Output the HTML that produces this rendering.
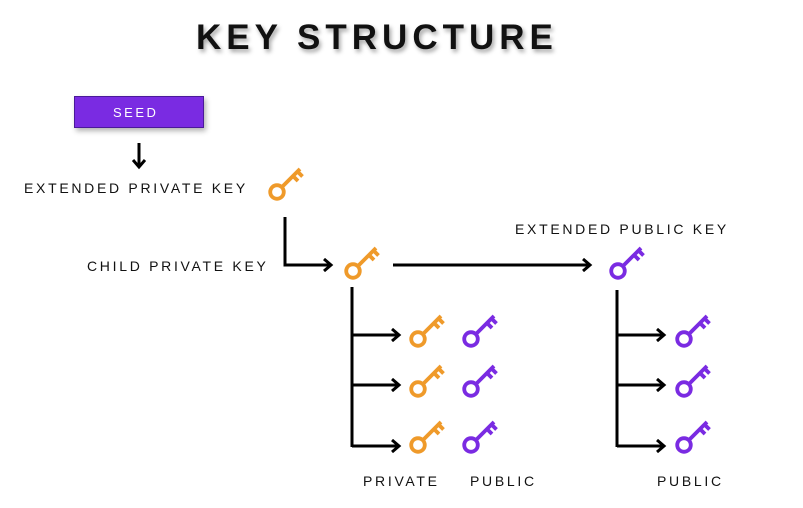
<!DOCTYPE html>
<html><head><meta charset="utf-8"><style>
html,body{margin:0;padding:0;background:#fff;}
body{width:803px;height:508px;position:relative;overflow:hidden;font-family:"Liberation Sans",sans-serif;}
.t{position:absolute;font-size:14px;letter-spacing:2.7px;color:#111;white-space:nowrap;line-height:1;}
</style></head><body>
<div class="t" style="left:196px;top:20px;font-size:35px;font-weight:bold;letter-spacing:5px;text-shadow:2px 3px 4px rgba(0,0,0,0.35);">KEY STRUCTURE</div>
<div style="position:absolute;left:74px;top:96px;width:128px;height:30px;background:#7a2be2;border:1.5px solid #4a1a99;box-shadow:2px 3px 5px rgba(0,0,0,0.3);"></div>
<div class="t" style="left:113px;top:106px;color:#fff;font-size:13px;letter-spacing:2.5px;">SEED</div>
<div class="t" style="left:24px;top:181px;">EXTENDED PRIVATE KEY</div>
<div class="t" style="left:87px;top:259px;">CHILD PRIVATE KEY</div>
<div class="t" style="left:515px;top:222px;">EXTENDED PUBLIC KEY</div>
<div class="t" style="left:363px;top:474px;">PRIVATE</div>
<div class="t" style="left:470px;top:474px;">PUBLIC</div>
<div class="t" style="left:657px;top:474px;">PUBLIC</div>
<svg width="803" height="508" style="position:absolute;left:0;top:0">
<defs>
<marker id="a" markerWidth="14" markerHeight="14" refX="9" refY="7" orient="auto" markerUnits="userSpaceOnUse">
<path d="M2,1 L9,7 L2,13" fill="none" stroke="#000" stroke-width="3"/></marker>
<g id="k" fill="none" stroke-width="3.8" stroke-linecap="butt">
<circle cx="0" cy="0" r="6.8"/>
<path d="M5,-5 L23,-23 M16,-16 L21,-11 M20.5,-20.5 L25.5,-15.5"/>
</g>
</defs>
<g stroke="#000" stroke-width="3" fill="none">
<path d="M139,143 V167" marker-end="url(#a)"/>
<path d="M285,217 V265 H331" marker-end="url(#a)"/>
<path d="M393,265 H590" marker-end="url(#a)"/>
<path d="M352,287 V447"/>
<path d="M352,335 H399" marker-end="url(#a)"/>
<path d="M352,385 H399" marker-end="url(#a)"/>
<path d="M352,446 H399" marker-end="url(#a)"/>
<path d="M617,290 V447"/>
<path d="M617,335 H664" marker-end="url(#a)"/>
<path d="M617,385 H664" marker-end="url(#a)"/>
<path d="M617,446 H664" marker-end="url(#a)"/>
</g>
<g stroke="#ef9a2a">
<use href="#k" x="277" y="192"/>
<use href="#k" x="353" y="271"/>
<use href="#k" x="418" y="339"/>
<use href="#k" x="418" y="389"/>
<use href="#k" x="418" y="445"/>
</g>
<g stroke="#7a2be2">
<use href="#k" x="618" y="271"/>
<use href="#k" x="471" y="339"/>
<use href="#k" x="471" y="389"/>
<use href="#k" x="471" y="445"/>
<use href="#k" x="684" y="339"/>
<use href="#k" x="684" y="389"/>
<use href="#k" x="684" y="445"/>
</g>
</svg>
</body></html>
